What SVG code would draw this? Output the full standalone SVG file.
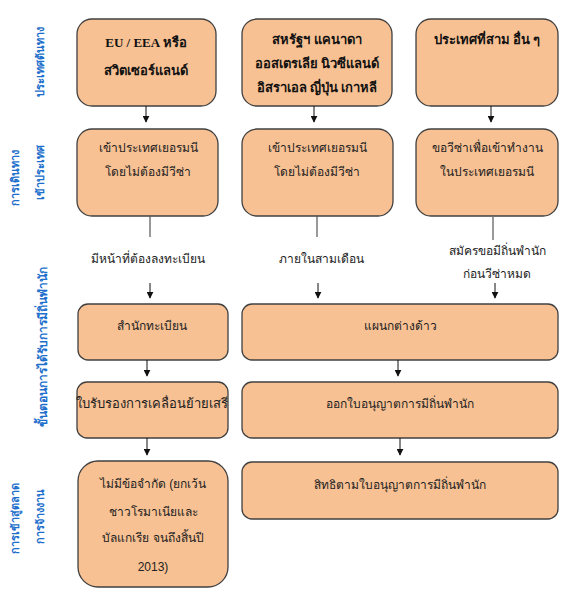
<svg xmlns="http://www.w3.org/2000/svg" width="568" height="600" viewBox="0 0 568 600">
<style>
.box{fill:#F8C193;stroke:#404040;stroke-width:1.3}
.t{font-family:"Liberation Sans","DejaVu Sans","Noto Sans",sans-serif;font-size:12px;fill:#222;text-anchor:middle}
.b{font-family:"Liberation Serif","DejaVu Serif",serif;font-size:13px;font-weight:bold;fill:#111;text-anchor:middle}
.lab{font-family:"Liberation Sans","DejaVu Sans","Noto Sans",sans-serif;font-size:11px;font-weight:bold;fill:#1E6FCC;text-anchor:middle}
.c{stroke:#111;stroke-width:1;fill:none}
.g{stroke:#555;stroke-width:1.2;fill:none}
</style>
<defs>
<marker id="ah" viewBox="0 0 10 10" refX="9" refY="5" markerWidth="7" markerHeight="7" markerUnits="userSpaceOnUse" orient="auto">
<path d="M0,0 L10,5 L0,10 z" fill="#111"/>
</marker>
</defs>
<rect width="568" height="600" fill="#fff"/>

<g id="side-labels">
<text class="lab" transform="rotate(-90 44 62)" x="44" y="62">ประเทศต้นทาง</text>
<text class="lab" transform="rotate(-90 19 178)" x="19" y="178">การเดินทาง</text>
<text class="lab" transform="rotate(-90 44 172)" x="44" y="172">เข้าประเทศ</text>
<text class="lab" transform="rotate(-90 47 347)" x="47" y="347" style="font-size:12px">ขั้นตอนการได้รับการมีถิ่นพำนัก</text>
<text class="lab" transform="rotate(-90 19 518)" x="19" y="518">การเข้าสู่ตลาด</text>
<text class="lab" transform="rotate(-90 44 516)" x="44" y="516">การจ้างงาน</text>
</g>

<g id="n-eu">
<rect class="box" x="77" y="19" width="139" height="87" rx="15"/>
<text class="b" x="146" y="47">EU / EEA หรือ</text>
<text class="b" x="146" y="75">สวิตเซอร์แลนด์</text>
</g>
<g id="n-us">
<rect class="box" x="242" y="19" width="150" height="87" rx="15"/>
<text class="b" x="317" y="44">สหรัฐฯ แคนาดา</text>
<text class="b" x="317" y="68">ออสเตรเลีย  นิวซีแลนด์</text>
<text class="b" x="317" y="92">อิสราเอล ญี่ปุ่น เกาหลี</text>
</g>
<g id="n-third">
<rect class="box" x="416" y="19" width="142" height="87" rx="15"/>
<text class="b" x="487" y="44">ประเทศที่สาม อื่น ๆ</text>
</g>

<g id="n-entry-eu">
<rect class="box" x="77" y="129" width="141" height="87" rx="15"/>
<text class="t" x="148" y="152">เข้าประเทศเยอรมนี</text>
<text class="t" x="148" y="176">โดยไม่ต้องมีวีซ่า</text>
</g>
<g id="n-entry-us">
<rect class="box" x="242" y="129" width="151" height="87" rx="15"/>
<text class="t" x="317" y="152">เข้าประเทศเยอรมนี</text>
<text class="t" x="317" y="176">โดยไม่ต้องมีวีซ่า</text>
</g>
<g id="n-entry-third">
<rect class="box" x="416" y="129" width="142" height="87" rx="15"/>
<text class="t" x="487" y="152">ขอวีซ่าเพื่อเข้าทำงาน</text>
<text class="t" x="487" y="176">ในประเทศเยอรมนี</text>
</g>

<g id="n-registry">
<rect class="box" x="78" y="304" width="150" height="56" rx="10"/>
<text class="t" x="152" y="330">สำนักทะเบียน</text>
</g>
<g id="n-foreign">
<rect class="box" x="242" y="304" width="316" height="56" rx="10"/>
<text class="t" x="400" y="330">แผนกต่างด้าว</text>
</g>
<g id="n-cert">
<rect class="box" x="77" y="382" width="151" height="56" rx="10"/>
<text class="t" x="152" y="408" style="font-size:13px">ใบรับรองการเคลื่อนย้ายเสรี</text>
</g>
<g id="n-permit">
<rect class="box" x="242" y="382" width="316" height="56" rx="10"/>
<text class="t" x="400" y="408">ออกใบอนุญาตการมีถิ่นพำนัก</text>
</g>
<g id="n-nolimit">
<rect class="box" x="78" y="461" width="150" height="126" rx="20"/>
<text class="t" x="153" y="488">ไม่มีข้อจำกัด (ยกเว้น</text>
<text class="t" x="153" y="516">ชาวโรมาเนียและ</text>
<text class="t" x="153" y="542">บัลแกเรีย จนถึงสิ้นปี</text>
<text class="t" x="153" y="571">2013)</text>
</g>
<g id="n-rights">
<rect class="box" x="242" y="462" width="316" height="57" rx="10"/>
<text class="t" x="400" y="489">สิทธิตามใบอนุญาตการมีถิ่นพำนัก</text>
</g>

<g id="connectors">
<line class="c" x1="146" y1="106" x2="146" y2="122" marker-end="url(#ah)"/>
<line class="c" x1="314" y1="106" x2="314" y2="122" marker-end="url(#ah)"/>
<line class="c" x1="491" y1="106" x2="491" y2="122" marker-end="url(#ah)"/>
<line class="g" x1="150" y1="216" x2="150" y2="237"/>
<line class="g" x1="317" y1="216" x2="317" y2="237"/>
<line class="g" x1="493" y1="217" x2="493" y2="240"/>
<text class="t" x="148" y="263">มีหน้าที่ต้องลงทะเบียน</text>
<text class="t" x="321" y="263">ภายในสามเดือน</text>
<text class="t" x="497" y="255">สมัครขอมีถิ่นพำนัก</text>
<text class="t" x="497" y="278">ก่อนวีซ่าหมด</text>
<line class="c" x1="150" y1="283" x2="150" y2="298" marker-end="url(#ah)"/>
<line class="c" x1="318" y1="283" x2="318" y2="298" marker-end="url(#ah)"/>
<line class="c" x1="495" y1="283" x2="495" y2="298" marker-end="url(#ah)"/>
<line class="c" x1="147" y1="360" x2="147" y2="376" marker-end="url(#ah)"/>
<line class="c" x1="398" y1="360" x2="398" y2="376" marker-end="url(#ah)"/>
<line class="c" x1="147" y1="438" x2="147" y2="455" marker-end="url(#ah)"/>
<line class="c" x1="400" y1="438" x2="400" y2="455" marker-end="url(#ah)"/>
</g>
</svg>
